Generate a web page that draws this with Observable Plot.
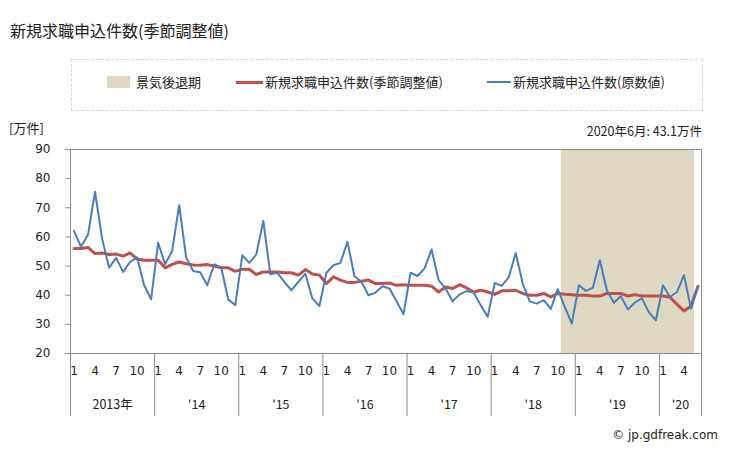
<!DOCTYPE html>
<html><head><meta charset="utf-8">
<script src="https://cdn.jsdelivr.net/npm/d3@7"></script>
<script src="https://cdn.jsdelivr.net/npm/@observablehq/plot@0.6"></script>
<style>
body{margin:0;background:#fff;}
#wrap{position:relative;width:729px;height:450px;font-family:"Noto Sans CJK JP",sans-serif;color:#222;overflow:hidden;}
.abs{position:absolute;white-space:nowrap;}
#chart{position:absolute;left:0;top:140px;}
</style></head><body>
<div id="wrap">
  <div class="abs" style="left:10px;top:19px;font-size:16px;line-height:22px;">新規求職申込件数(季節調整値)</div>
  <div class="abs" style="left:71px;top:59px;width:630px;height:50px;border:1px dashed #d6d6c8;"></div>
  <div class="abs" style="left:107px;top:76px;width:23px;height:12px;background:#ddd9c3;"></div>
  <div class="abs" style="left:136px;top:73px;font-size:13px;line-height:18px;">景気後退期</div>
  <div class="abs" style="left:236px;top:81px;width:27px;height:3px;background:#c0504d;"></div>
  <div class="abs" style="left:265px;top:73px;font-size:13px;line-height:18px;">新規求職申込件数(季節調整値)</div>
  <div class="abs" style="left:487px;top:81px;width:24px;height:2px;background:#4a7ebb;"></div>
  <div class="abs" style="left:513px;top:73px;font-size:13px;line-height:18px;">新規求職申込件数(原数値)</div>
  <div class="abs" style="left:9px;top:119px;font-size:13px;line-height:18px;">[万件]</div>
  <div class="abs" style="right:27px;top:122px;font-size:12.5px;line-height:18px;">2020年6月: 43.1万件</div>
  <div class="abs" style="right:11px;top:426px;font-size:12px;line-height:18px;font-family:'DejaVu Sans',sans-serif;">© jp.gdfreak.com</div>
  <div id="chart"></div>
</div>
<script>
const startYear = 2013;
const yearLabels = ["2013年", "'14", "'15", "'16", "'17", "'18", "'19", "'20"];
const monthTickLabels = [1, 4, 7, 10];
const yTicks = [20, 30, 40, 50, 60, 70, 80, 90];
const recessionStart = "2018-11";
const recessionEnd = "2020-05";

// 新規求職申込件数(原数値), Jan 2013 – Jun 2020 (万件)
const rawValues = [
  62.1, 56.6, 60.8, 75.5, 59.5, 49.4, 52.8, 48.0, 51.4, 53.0, 43.4, 38.6,
  58.0, 50.6, 55.2, 70.9, 52.9, 48.3, 47.9, 43.4, 50.6, 49.5, 38.5, 36.6,
  53.7, 51.1, 54.0, 65.5, 47.2, 47.7, 44.6, 41.7, 44.6, 47.4, 38.9, 36.3,
  47.7, 50.3, 51.1, 58.3, 46.5, 44.6, 40.0, 40.9, 43.1, 42.3, 37.9, 33.5,
  47.7, 46.6, 49.2, 55.7, 45.2, 42.3, 37.9, 40.3, 41.4, 40.9, 36.6, 32.6,
  44.2, 43.2, 46.1, 54.5, 44.0, 37.9, 37.1, 38.3, 35.3, 42.1, 36.0, 30.3,
  43.4, 41.5, 42.5, 52.0, 41.7, 37.4, 39.7, 35.1, 37.5, 38.9, 34.1, 31.4,
  43.4, 39.4, 41.1, 46.9, 35.4, 43.1
];
// 新規求職申込件数(季節調整値)
const saValues = [
  56.0, 56.0, 56.4, 54.3, 54.5, 54.0, 54.1, 53.4, 54.5, 52.4, 52.0, 52.0,
  52.0, 49.4, 50.6, 51.4, 50.8, 50.4, 50.3, 50.5, 50.0, 49.4, 49.4, 48.2,
  48.9, 48.9, 47.1, 48.0, 48.0, 48.0, 47.7, 47.7, 46.9, 48.8, 47.3, 46.9,
  44.0, 46.3, 45.2, 44.4, 44.4, 44.8, 45.2, 44.0, 44.0, 44.2, 43.4, 43.6,
  43.4, 43.4, 43.4, 43.1, 41.1, 42.8, 42.3, 43.6, 42.5, 41.1, 41.7, 41.1,
  40.3, 41.5, 41.5, 41.7, 40.6, 40.0, 40.0, 40.6, 39.4, 40.6, 40.3, 40.2,
  40.0, 40.0, 39.7, 39.7, 40.6, 40.6, 40.6, 39.7, 40.2, 39.7, 39.7, 39.7,
  39.7, 39.3, 36.9, 34.6, 36.3, 43.1
];

const n = rawValues.length;
const data = rawValues.map((v, i) => ({i, raw: v, sa: saValues[i]}));
const idx = s => { const [y, m] = s.split("-").map(Number); return (y - startYear) * 12 + m - 1; };
const yMin = yTicks[0], yMax = yTicks[yTicks.length - 1];
const recession = [{x1: idx(recessionStart) - 0.5, x2: idx(recessionEnd) + 0.5, y1: yMin, y2: yMax}];
const yearBounds = d3.range(0, n, 12).map(i => i - 0.5).concat([n - 0.5]);
const monthTicks = d3.range(n).filter(i => monthTickLabels.includes(i % 12 + 1));
const yearCenters = yearLabels.map((l, k) => ({x: (k * 12 + Math.min(n, k * 12 + 12)) / 2 - 0.5, label: l}));
const yearLabelMap = new Map(yearCenters.map(d => [d.x, d.label]));

const chart = Plot.plot({
  width: 729, height: 285,
  marginTop: 9, marginBottom: 72, marginLeft: 70, marginRight: 28,
  style: {fontFamily: "DejaVu Sans", fontSize: "12px", color: "#222", background: "transparent"},
  x: {domain: [-0.5, n - 0.5], label: null},
  y: {domain: [yMin, yMax], label: null},
  marks: [
    Plot.rect(recession, {x1: "x1", x2: "x2", y1: "y1", y2: "y2", fill: "#ddd9c3"}),
    Plot.frame({stroke: "#8c8c8c"}),
    Plot.axisY(yTicks, {tickSize: 5, tickPadding: 15, stroke: "#8c8c8c", label: null}),
    Plot.axisX(yearBounds, {tickSize: 63, tickFormat: () => "", stroke: "#8c8c8c", label: null}),
    Plot.axisX(monthTicks, {tickSize: 0, tickPadding: 13, tickFormat: i => String(i % 12 + 1), label: null}),
    Plot.axisX(yearCenters.map(d => d.x), {tickSize: 0, tickPadding: 47, tickFormat: x => yearLabelMap.get(x), label: null, fontFamily: "Noto Sans CJK JP", fontSize: 12.5}),
    Plot.line(data, {x: "i", y: "sa", stroke: "#c0504d", strokeWidth: 3, strokeLinejoin: "round"}),
    Plot.line(data, {x: "i", y: "raw", stroke: "#4a7ebb", strokeWidth: 2, strokeLinejoin: "round"})
  ]
});
document.getElementById("chart").appendChild(chart);
</script>
</body></html>
